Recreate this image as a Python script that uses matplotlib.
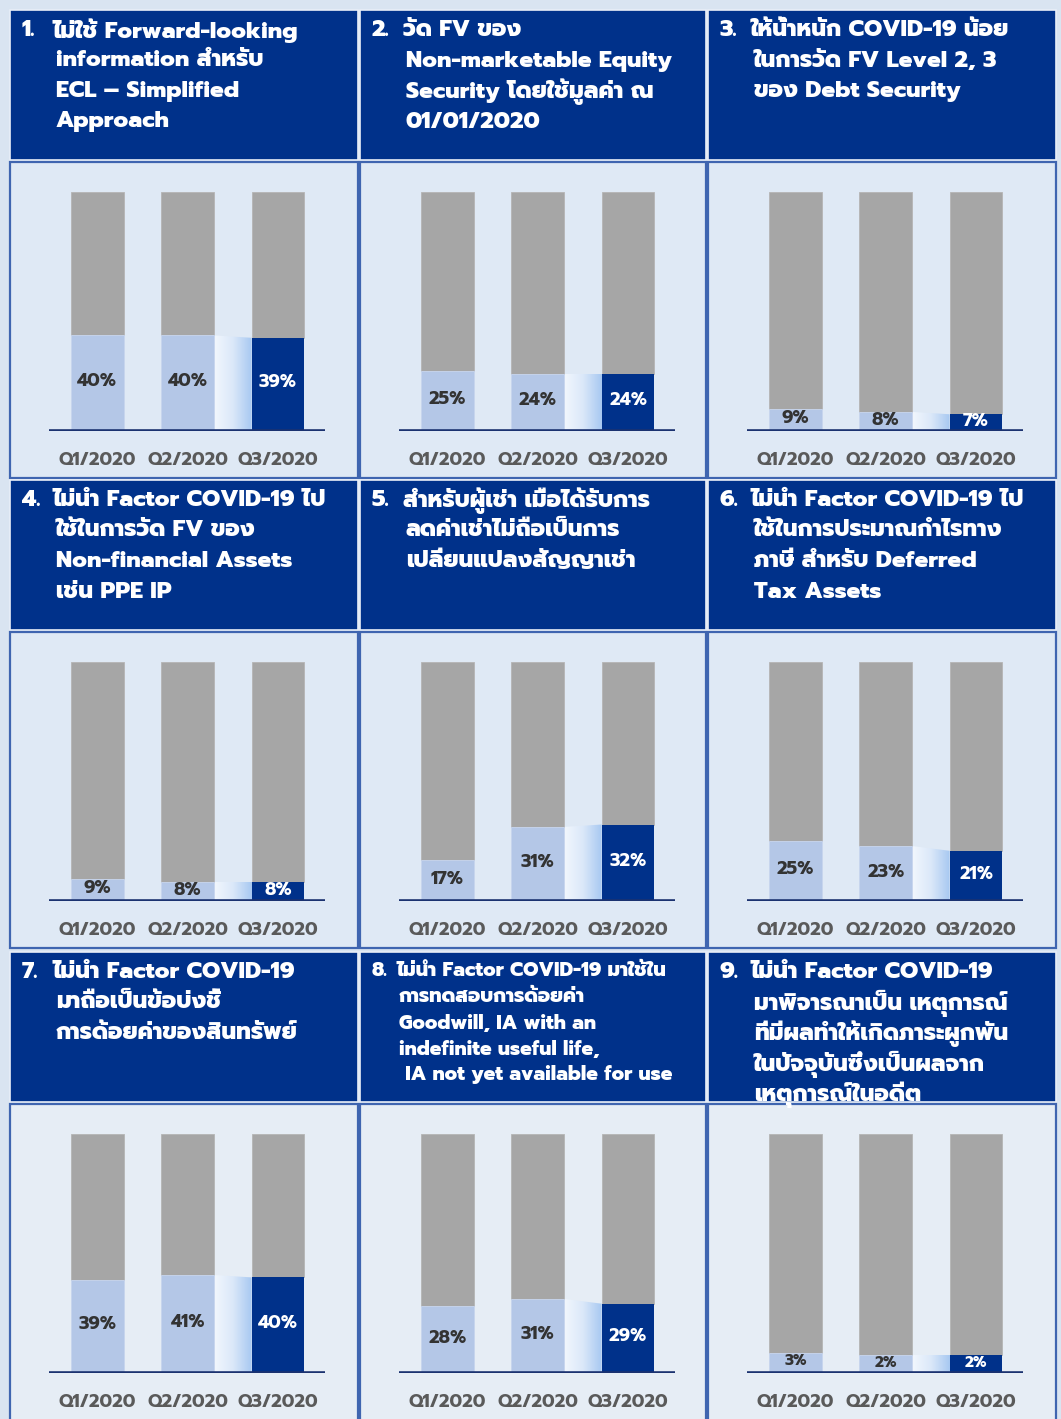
import numpy as np
import matplotlib
matplotlib.use('Agg')
from matplotlib import pyplot as plt
from matplotlib import font_manager
from matplotlib.patches import Rectangle, Polygon

quarters = ['Q1/2020', 'Q2/2020', 'Q3/2020']

# share (%) of companies per question, Q1..Q3
p1 = [40, 40, 39]
p2 = [25, 24, 24]
p3 = [9, 8, 7]
p4 = [9, 8, 8]
p5 = [17, 31, 32]
p6 = [25, 23, 21]
p7 = [39, 41, 40]
p8 = [28, 31, 29]
p9 = [3, 2, 2]
# panel 9 bars are drawn taller than their labels in the original
p9_drawn = [8.5, 7.5, 7.5]

titles = [
    ['1.', 'ไม่ใช้ Forward-looking', 'information สำหรับ', 'ECL – Simplified', 'Approach'],
    ['2.', 'วัด FV ของ', 'Non-marketable Equity', 'Security โดยใช้มูลค่า ณ', '01/01/2020'],
    ['3.', 'ให้น้ำหนัก COVID-19 น้อย', 'ในการวัด FV Level 2, 3', 'ของ Debt Security'],
    ['4.', 'ไม่นำ Factor COVID-19 ไป', 'ใช้ในการวัด FV ของ', 'Non-financial Assets', 'เช่น PPE IP'],
    ['5.', 'สำหรับผู้เช่า เมื่อได้รับการ', 'ลดค่าเช่าไม่ถือเป็นการ', 'เปลี่ยนแปลงสัญญาเช่า'],
    ['6.', 'ไม่นำ Factor COVID-19 ไป', 'ใช้ในการประมาณกำไรทาง', 'ภาษี สำหรับ Deferred', 'Tax Assets'],
    ['7.', 'ไม่นำ Factor COVID-19', 'มาถือเป็นข้อบ่งชี้', 'การด้อยค่าของสินทรัพย์'],
    ['8.', 'ไม่นำ Factor COVID-19 มาใช้ใน', 'การทดสอบการด้อยค่า', 'Goodwill, IA with an',
     'indefinite useful life,', ' IA not yet available for use'],
    ['9.', 'ไม่นำ Factor COVID-19', 'มาพิจารณาเป็น เหตุการณ์', 'ที่มีผลทำให้เกิดภาระผูกพัน',
     'ในปัจจุบันซึ่งเป็นผลจาก', 'เหตุการณ์ในอดีต'],
]
panels = [p1, p2, p3, p4, p5, p6, p7, p8, p9]
drawn = [p1, p2, p3, p4, p5, p6, p7, p8, p9_drawn]

# pick a Thai-capable font
installed = {f.name for f in font_manager.fontManager.ttflist}
thai_font = 'DejaVu Sans'
for name in ['Prompt', 'Kanit', 'Mitr', 'Noto Sans Thai', 'Sarabun', 'Athiti', 'Bai Jamjuree']:
    if name in installed:
        thai_font = name
        break
plt.rcParams['font.family'] = [thai_font, 'DejaVu Sans']
plt.rcParams['font.weight'] = 'bold'

NAVY = '#00318a'
LIGHT = '#b4c7e7'
GREY = '#a6a6a6'
BG = '#d9e4f1'
PANEL = '#dfe9f5'

W, H = 1061, 1419
fig = plt.figure(figsize=(W / 100, H / 100), dpi=100)
fig.patch.set_facecolor(BG)
bg = fig.add_axes([0, 0, 1, 1])
bg.set_xlim(0, W)
bg.set_ylim(H, 0)
bg.axis('off')

col_x = [10, 360, 708]
col_w = [348, 346, 348]
row_y = [10, 480, 952]
head_h = 150
chart_h = [316, 316, 330]

grad = np.linspace(0, 1, 256).reshape(1, -1)
cmap = matplotlib.colors.LinearSegmentedColormap.from_list('conn', ['#f2f7fd', '#dbe8f9', '#a7c8f1'])

for k, (vals, hts, lines) in enumerate(zip(panels, drawn, titles)):
    r, c = divmod(k, 3)
    x0, y0, w = col_x[c], row_y[r], col_w[c]
    # header box
    bg.add_patch(Rectangle((x0, y0), w, head_h, facecolor=NAVY, edgecolor='#e8eef8', lw=1.2))
    # chart box
    cy = y0 + head_h + 2
    face = PANEL if r < 2 else '#e6edf5'
    bg.add_patch(Rectangle((x0, cy), w, chart_h[r], facecolor=face, edgecolor='#3f65b0', lw=1.6))

    # header text
    small = k == 7
    fs = 14 if small else 16.5
    step = 26 if small else 30.5
    ty = y0 + (19 if small else 20.5)
    bg.text(x0 + 12, ty, lines[0], color='white', fontsize=fs, va='center', ha='left',
            fontweight=800)
    for i, ln in enumerate(lines[1:]):
        tx = x0 + (36 if small else 43) + (0 if i == 0 else 3)
        bg.text(tx, ty + i * step, ln, color='white', fontsize=fs, va='center', ha='left',
                fontweight=800)

    # bar axes, in pixel layout of the panel
    top = cy + 30
    base = cy + 269
    left = x0 + 39
    ax = fig.add_axes([left / W, 1 - base / H, 276 / W, (base - top) / H])
    ax.set_facecolor('none')
    x = np.arange(len(quarters))
    bw = 0.585
    ax.bar(x, [100 - v for v in hts], bw, bottom=hts, color=GREY, edgecolor='#b5b5b5', lw=0.6, zorder=2)
    ax.bar(x[:2], hts[:2], bw, color=LIGHT, edgecolor='#c7d5ee', lw=0.6, zorder=2)
    ax.bar(x[2], hts[2], bw, color=NAVY, zorder=2)

    # gradient connector from Q2 to Q3
    xa, xb = x[1] + bw / 2, x[2] - bw / 2
    poly = Polygon([(xa, 0), (xa, hts[1]), (xb, hts[2]), (xb, 0)], closed=True,
                   facecolor='none', edgecolor='none')
    ax.add_patch(poly)
    im = ax.imshow(grad, extent=(xa, xb, 0, max(hts[1], hts[2])), cmap=cmap,
                   aspect='auto', zorder=1.5, origin='lower')
    im.set_clip_path(poly)

    for i, (v, hv) in enumerate(zip(vals, hts)):
        ax.text(x[i], hv / 2 + 0.6, f'{v}%', ha='center', va='center',
                fontsize=13 if v > 4 else 11,
                color='white' if i == 2 else '#333333', zorder=3)

    ax.set_xlim(-0.535, 2.52)
    ax.set_ylim(0, 100)
    ax.axhline(0, color='#1b3270', lw=2.6, zorder=4)
    for s in ax.spines.values():
        s.set_visible(False)
    ax.set_yticks([])
    ax.set_xticks(x, quarters)
    ax.tick_params(axis='x', length=0, pad=15, labelsize=13, labelcolor='#5a5a5a')

fig.savefig('out.png', dpi=100, facecolor=fig.get_facecolor())
